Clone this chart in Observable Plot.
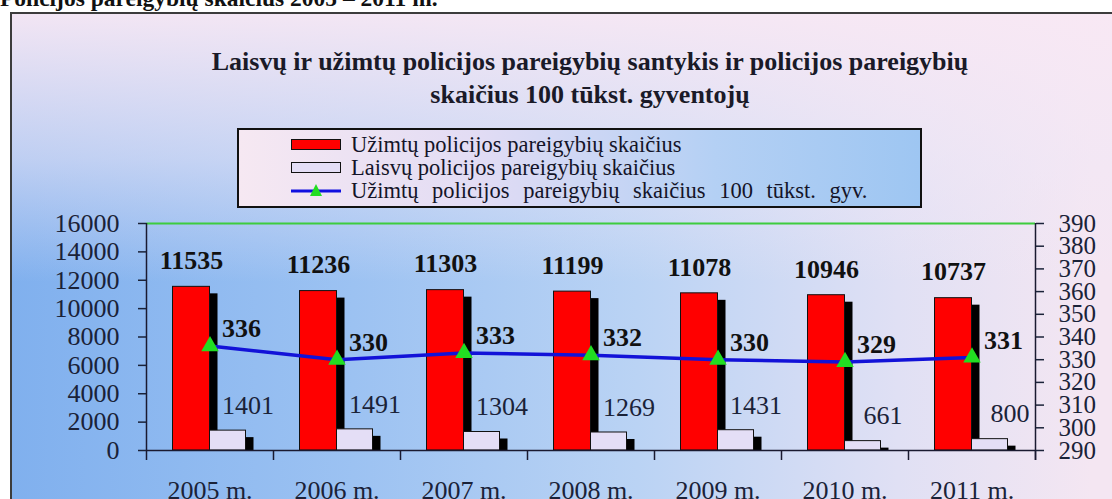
<!DOCTYPE html>
<html>
<head>
<meta charset="utf-8">
<script src="https://cdn.jsdelivr.net/npm/d3@7"></script>
<script src="https://cdn.jsdelivr.net/npm/@observablehq/plot@0.6"></script>
<style>
  body { margin: 0; background: #fff; }
  #wrap { position: relative; width: 1112px; height: 499px; overflow: hidden;
          font-family: "Liberation Serif", "Times New Roman", serif; color: #111; }
  #heading { position: absolute; left: 0; top: -15px; font-weight: bold; font-size: 23.5px; white-space: nowrap; }
  #frame { position: absolute; left: 10px; top: 12px; width: 1140px; height: 520px;
           border: 2px solid #3c3c3c; box-sizing: border-box;
           background:
             linear-gradient(to bottom, rgba(248,232,244,0.95) 0%, rgba(242,232,246,0.55) 28%, rgba(242,232,246,0) 52%),
             linear-gradient(to right, #80b0ee 0%, #9cc2f2 30%, #bad3f4 55%, #e0e0f4 78%, #f4e6f2 95%); }
  #title { position: absolute; left: 0; width: 1180px; top: 45px; text-align: center;
           font-weight: bold; font-size: 26px; line-height: 33px; color: #1a1a28; }
  #legend { position: absolute; left: 237px; top: 128px; width: 685px; height: 80px;
            border: 2px solid #111; box-sizing: border-box;
            background: linear-gradient(to right, #f6e8f2 0%, #e2dcf4 35%, #b4d0f4 70%, #9ec6f2 100%); }
  .row { position: absolute; left: 52px; height: 23px; display: flex; align-items: center;
         font-size: 22.5px; white-space: nowrap; color: #141428; }
  .sw { display: inline-block; width: 50px; height: 11px; margin-right: 10px; box-sizing: border-box; border: 1.5px solid #111; }
  #chart { position: absolute; left: 0; top: 200px; }
</style>
</head>
<body>
<div id="wrap">
  <div id="heading">Policijos pareigybių skaičius 2005 – 2011 m.</div>
  <div id="frame"></div>
  <div id="title">Laisvų ir užimtų policijos pareigybių santykis ir policijos pareigybių<br>skaičius 100 tūkst. gyventojų</div>
  <div id="legend">
    <div class="row" style="top:3px"><span class="sw" style="background:#ff0000"></span>Užimtų policijos pareigybių skaičius</div>
    <div class="row" style="top:26px"><span class="sw" style="background:#e4def6"></span>Laisvų policijos pareigybių skaičius</div>
    <div class="row" style="top:49px; word-spacing:8px"><svg width="50" height="16" style="margin-right:10px"><line x1="0" y1="8" x2="50" y2="8" stroke="#1010e0" stroke-width="3"/><path d="M25 1 L31 13 L19 13 Z" fill="#22dd22"/></svg>Užimtų policijos pareigybių skaičius 100 tūkst. gyv.</div>
  </div>
  <div id="chart"></div>
</div>
<script>
const years = ["2005 m.", "2006 m.", "2007 m.", "2008 m.", "2009 m.", "2010 m.", "2011 m."];
const occupied = [11535, 11236, 11303, 11199, 11078, 10946, 10737];
const vacant = [1401, 1491, 1304, 1269, 1431, 661, 800];
const per100k = [336, 330, 333, 332, 330, 329, 331];
const leftTicks = [0, 2000, 4000, 6000, 8000, 10000, 12000, 14000, 16000];
const rightTicks = [290, 300, 310, 320, 330, 340, 350, 360, 370, 380, 390];

// right axis (290..390) mapped onto the left scale (0..16000)
const rMin = 290, rMax = 390, lMax = 16000;
const toLeft = v => (v - rMin) / (rMax - rMin) * lMax;
const fromLeft = d => Math.round(d / lMax * (rMax - rMin) + rMin);

const data = years.map((y, i) => ({year: y, occ: occupied[i], vac: vacant[i], rate: per100k[i]}));
const half = 63.5;

const chart = Plot.plot({
  width: 1112, height: 299,
  marginLeft: 146, marginRight: 77, marginTop: 23, marginBottom: 49,
  style: {background: "transparent", fontFamily: "'Liberation Serif', 'Times New Roman', serif", fontSize: "26px", color: "#1a2238", overflow: "visible"},
  x: {domain: years, padding: 0, label: null},
  y: {domain: [0, lMax], label: null},
  marks: [
    Plot.ruleY([lMax], {stroke: "#3dcc3d", strokeWidth: 2}),
    // shadow of occupied bar
    Plot.barY(data, {x: "year", y: "occ", fill: "#000", insetLeft: 63.5, insetRight: 55.5, insetTop: 7}),
    Plot.barY(data, {x: "year", y: "occ", fill: "#ff0000", stroke: "#111", strokeWidth: 1, insetLeft: 26.5, insetRight: 63.5}),
    // shadow of vacant bar
    Plot.barY(data, {x: "year", y: "vac", fill: "#000", insetLeft: 99.5, insetRight: 19.5, insetTop: 7}),
    Plot.barY(data, {x: "year", y: "vac", fill: "#e4def6", stroke: "#111", strokeWidth: 1, insetLeft: 63.5, insetRight: 27.5}),
    Plot.ruleY([0], {stroke: "#1a1a30", strokeWidth: 1.5}),
    Plot.ruleX([years[0]], {dx: -half, y1: lMax, y2: 0, insetBottom: -10, stroke: "#1a1a30", strokeWidth: 1.5}),
    Plot.ruleX([years[years.length - 1]], {dx: half, y1: lMax, y2: 0, insetBottom: -10, stroke: "#1a1a30", strokeWidth: 1.5}),
    Plot.ruleX(years, {dx: half, y1: 0, y2: 0, insetBottom: -10, stroke: "#1a1a30", strokeWidth: 1.5}),
    Plot.axisY({ticks: leftTicks, tickSize: 8, tickPadding: 19, tickFormat: d => String(d), fontSize: 26, strokeWidth: 1.5}),
    Plot.axisY({anchor: "right", ticks: rightTicks.map(toLeft), tickSize: 8, tickPadding: 15, tickFormat: d => String(fromLeft(d)), fontSize: 25, strokeWidth: 1.5}),
    Plot.axisX({tickSize: 0, tickPadding: 30, fontSize: 26}),
    Plot.line(data, {x: "year", y: d => toLeft(d.rate), stroke: "#1212d8", strokeWidth: 3.5}),
    Plot.dot(data, {x: "year", y: d => toLeft(d.rate), symbol: "triangle", fill: "#22dd22", r: 6.5}),
    Plot.text(data, {x: "year", y: "occ", text: d => String(d.occ), dx: -18.5, dy: -26, fontWeight: "bold", fontSize: 26, fill: "#111"}),
    Plot.text(data, {x: "year", y: d => toLeft(d.rate), text: d => String(d.rate), dx: 12, dy: -17, textAnchor: "start", fontWeight: "bold", fontSize: 26, fill: "#111"}),
    Plot.text(data, {x: "year", y: "vac", text: d => String(d.vac), dx: 38, dy: -25, fontSize: 26, fill: "#1a2238"})
  ]
});
document.getElementById("chart").appendChild(chart);
</script>
</body>
</html>
